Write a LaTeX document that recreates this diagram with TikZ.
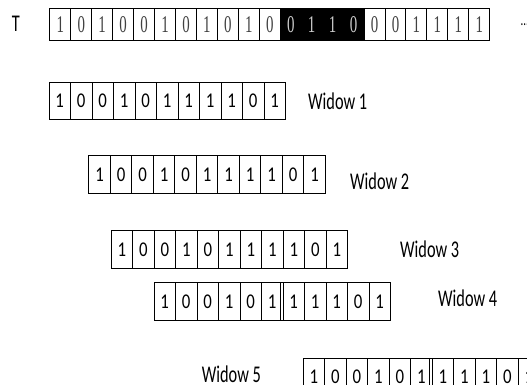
\documentclass[tikz,border=0pt]{standalone}
\usepackage{fontspec}
\newfontfamily\calfont[FakeStretch=0.68]{Carlito}
\newfontfamily\digfont[FakeStretch=0.8]{Carlito}
\newfontfamily\tmsfont[FakeStretch=0.62]{Liberation Serif}
\tikzset{
  tcell/.style={draw, line width=1pt, minimum width=20.95pt, minimum height=32pt, inner sep=0pt, anchor=west,
    font=\tmsfont\fontsize{24}{24}\selectfont, text=black!75},
  hcell/.style={tcell, fill=black, text=white!80!black},
  wcell/.style={draw, line width=1pt, minimum width=21.5pt, minimum height=37.5pt, inner sep=0pt, anchor=west,
    font=\digfont\fontsize{21}{21}\selectfont},
  wlabel/.style={anchor=base west, inner sep=0pt, font=\calfont\fontsize{24}{24}\selectfont},
  dline/.style={line width=1pt}
}
\newcommand{\winrow}[3]{%
  \foreach \b [count=\i from 0] in {1,0,0,1,0,1,1,1,1,0,1}
    \node[wcell] (#1-\i) at ({#2+21.5*\i}, #3) {\b};
}
\begin{document}
\begin{tikzpicture}[x=1pt,y=-1pt]
\useasboundingbox (0,0) rectangle (527,385);
% T row
\node[anchor=base, inner sep=0pt, font=\calfont\fontsize{24}{24}\selectfont] (tl) at (15.8,32) {T};
\foreach \b [count=\i from 0] in {1,0,1,0,0,1,0,1,0,1,0,0,1,1,0,0,0,1,1,1,1}{
  \ifnum\i>10 \ifnum\i<15
    \node[hcell] (t\i) at ({49.3+20.95*\i}, 24.5) {\b};
  \else
    \node[tcell] (t\i) at ({49.3+20.95*\i}, 24.5) {\b};
  \fi\else
    \node[tcell] (t\i) at ({49.3+20.95*\i}, 24.5) {\b};
  \fi
}
\node[anchor=base west, inner sep=0pt, font=\calfont\fontsize{16}{16}\selectfont] (dots) at (520.5,26) {...};
% windows
\winrow{wa}{48.5}{101.2}
\node[wlabel] (la) at (308,109.4) {Widow 1};
\winrow{wb}{88.3}{174.5}
\node[wlabel] (lb) at (350,189.4) {Widow 2};
\winrow{wc}{110.7}{249.5}
\node[wlabel] (lc) at (400,257.7) {Widow 3};
\winrow{wd}{153.5}{301.5}
\node[wlabel] (ld) at (438,306.7) {Widow 4};
\draw[dline] ([xshift=-2pt]wd-6.north west) -- ([xshift=-2pt]wd-6.south west);
\winrow{we}{302.7}{377}
\node[wlabel] (le) at (201.7,382) {Widow 5};
\draw[dline] ([xshift=-2pt]we-6.north west) -- ([xshift=-2pt]we-6.south west);
\end{tikzpicture}
\end{document}
